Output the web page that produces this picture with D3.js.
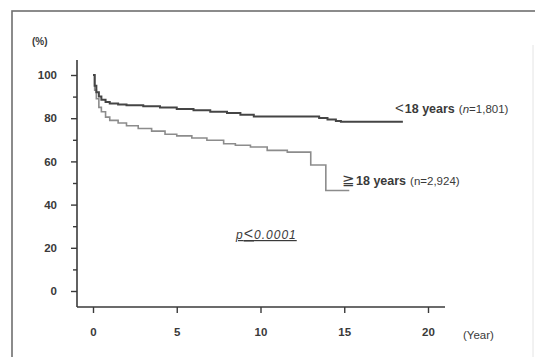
<!DOCTYPE html>
<html>
<head>
<meta charset="utf-8">
<script src="https://cdn.jsdelivr.net/npm/d3@7"></script>
<style>
  html, body { margin: 0; padding: 0; background: #ffffff; }
  svg { display: block; }
  text { font-family: "Liberation Sans", Arial, sans-serif; fill: #3a3a3a; }
</style>
</head>
<body>
<svg id="chart" width="535" height="357"></svg>
<script>
// Kaplan–Meier survival estimates, percent, by age group at onset
const timeUnder18 = [0, 0.1, 0.2, 0.35, 0.5, 0.75, 1.0, 1.5, 2.0, 3.0, 4.0, 5.0, 6.0, 7.0, 8.0, 8.8, 9.6, 13.5, 14.0, 14.5, 14.8, 18.5];
const survUnder18 = [100, 95, 92, 90, 88.5, 87.5, 86.8, 86.3, 86.0, 85.5, 85.0, 84.3, 83.7, 83.0, 82.4, 81.6, 80.8, 80.1, 79.4, 78.7, 78.3, 78.3];

const timeOver18 = [0, 0.1, 0.2, 0.35, 0.5, 0.75, 1.0, 1.5, 2.0, 2.7, 3.5, 4.3, 5.0, 5.9, 6.8, 7.8, 8.5, 9.4, 10.4, 11.6, 13.0, 13.9, 15.3];
const survOver18 = [100, 93, 89, 85, 83, 80.5, 79, 77.8, 76.5, 75.2, 74.0, 72.6, 71.8, 70.8, 69.8, 68.2, 67.5, 66.7, 65.1, 64.3, 58.3, 46.5, 46.5];

const xTicks = [0, 5, 10, 15, 20];
const yTicks = [0, 20, 40, 60, 80, 100];
const yMinorTicks = [10, 30, 50, 70, 90];

const labelUnder18 = { sym: "<", txt: "18 years", n: "(n=1,801)" };
const labelOver18 = { sym: "≧", txt: "18 years", n: "(n=2,924)" };
const pLabel = { p: "p", sym: "<", val: "0.0001" };

const svg = d3.select("#chart");

// outer frame of the figure panel
svg.append("rect")
  .attr("x", 12).attr("y", 11)
  .attr("width", 540).attr("height", 360)
  .attr("fill", "none").attr("stroke", "#6f6f6f").attr("stroke-width", 1.6);
svg.append("line")
  .attr("x1", 533).attr("x2", 533).attr("y1", 45).attr("y2", 357)
  .attr("stroke", "#e4e4e4").attr("stroke-width", 1);

const x = d3.scaleLinear().domain([0, 20]).range([93, 428]);
const y = d3.scaleLinear().domain([0, 100]).range([291, 75]);

const axisX0 = 77, axisY0 = 307;
const axisColor = "#3a3a3a";
const tickFont = "'Liberation Sans', Arial, sans-serif";

// y axis
svg.append("line")
  .attr("x1", axisX0).attr("x2", axisX0)
  .attr("y1", 60).attr("y2", axisY0)
  .attr("stroke", axisColor).attr("stroke-width", 1.6);
const yAxis = d3.axisLeft(y).tickValues(yTicks).tickSize(6).tickPadding(14);
const gy = svg.append("g").attr("transform", `translate(${axisX0},0)`).call(yAxis);
gy.select(".domain").remove();
gy.selectAll(".tick line").attr("stroke", axisColor).attr("stroke-width", 1.4);
gy.selectAll(".tick text")
  .attr("font-size", 11.5).attr("font-weight", "bold").attr("fill", "#3a3a3a")
  .style("font-family", tickFont);
const yMinor = d3.axisLeft(y).tickValues(yMinorTicks).tickSize(4).tickFormat("");
const gym = svg.append("g").attr("transform", `translate(${axisX0},0)`).call(yMinor);
gym.select(".domain").remove();
gym.selectAll(".tick line").attr("stroke", axisColor).attr("stroke-width", 1.4);

// x axis
svg.append("line")
  .attr("x1", axisX0).attr("x2", 445)
  .attr("y1", axisY0).attr("y2", axisY0)
  .attr("stroke", axisColor).attr("stroke-width", 1.6);
const xAxis = d3.axisBottom(x).tickValues(xTicks).tickSize(6).tickPadding(15);
const gx = svg.append("g").attr("transform", `translate(0,${axisY0})`).call(xAxis);
gx.select(".domain").remove();
gx.selectAll(".tick line").attr("stroke", axisColor).attr("stroke-width", 1.4);
gx.selectAll(".tick text")
  .attr("font-size", 11.5).attr("font-weight", "bold").attr("fill", "#3a3a3a")
  .style("font-family", tickFont);

// axis unit labels
svg.append("text").attr("x", 32).attr("y", 45)
  .attr("font-size", 10).attr("font-weight", "bold").text("(%)");
svg.append("text").attr("x", 463).attr("y", 339)
  .attr("font-size", 11.5).text("(Year)");

// survival step curves
const step = d3.line()
  .x(d => x(d[0]))
  .y(d => y(d[1]))
  .curve(d3.curveStepAfter);

const under18 = timeUnder18.map((t, i) => [t, survUnder18[i]]);
const over18 = timeOver18.map((t, i) => [t, survOver18[i]]);

svg.append("path").datum(over18)
  .attr("d", step)
  .attr("fill", "none").attr("stroke", "#8c8c8c").attr("stroke-width", 1.6);
svg.append("path").datum(under18)
  .attr("d", step)
  .attr("fill", "none").attr("stroke", "#454545").attr("stroke-width", 2);

// group labels
function groupLabel(lab, px, py, italicN) {
  const t = svg.append("text").attr("x", px).attr("y", py)
    .attr("font-size", 12.5).attr("font-weight", "bold");
  t.append("tspan").attr("font-size", 15).attr("font-weight", "normal").text(lab.sym);
  t.append("tspan").attr("dx", 1).text(lab.txt);
  const n = t.append("tspan").attr("dx", 4).attr("font-size", 11.5).attr("font-weight", "normal");
  if (italicN) {
    n.append("tspan").text("(");
    n.append("tspan").attr("font-style", "italic").text("n");
    n.append("tspan").text(lab.n.slice(2));
  } else {
    n.text(lab.n);
  }
}
groupLabel(labelUnder18, 395, 113, true);
groupLabel(labelOver18, 342, 185, false);

// log-rank p value
const pt = svg.append("text").attr("x", 236).attr("y", 239)
  .attr("font-size", 12).attr("font-style", "italic")
  .attr("letter-spacing", 1)
  .attr("text-decoration", "underline");
pt.append("tspan").text(pLabel.p);
pt.append("tspan").attr("font-size", 16).attr("font-style", "normal").text(pLabel.sym);
pt.append("tspan").text(pLabel.val);
</script>
</body>
</html>
